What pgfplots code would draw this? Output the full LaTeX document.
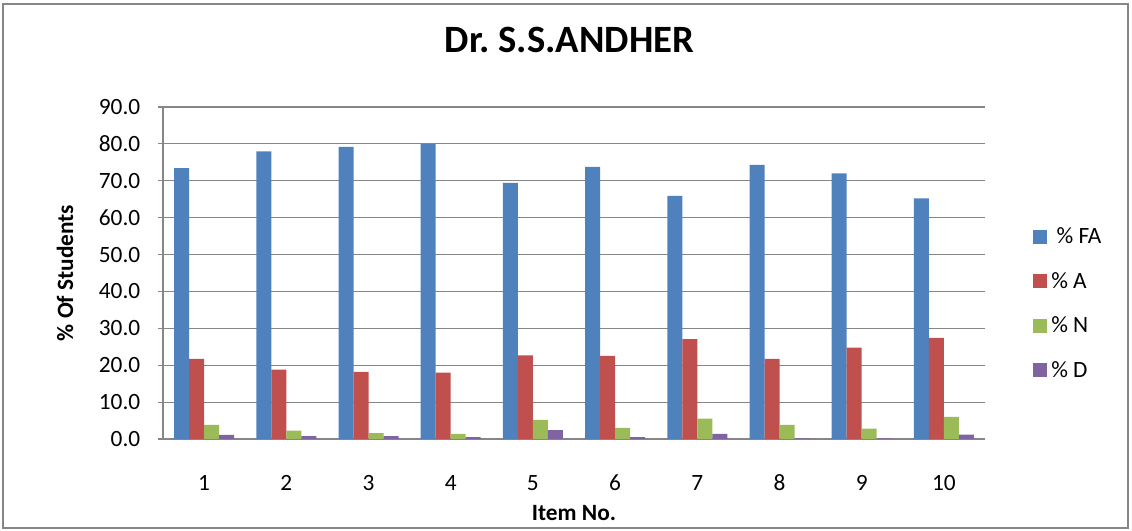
\documentclass[border=0pt]{standalone}
\usepackage{fontspec}
\setmainfont{Carlito}
\usepackage{pgfplots}
\pgfplotsset{compat=1.18}
\definecolor{cFA}{HTML}{4F81BD}
\definecolor{cA}{HTML}{C0504D}
\definecolor{cN}{HTML}{9BBB59}
\definecolor{cD}{HTML}{8064A2}
\definecolor{gridgray}{HTML}{868686}
\begin{document}
\begin{tikzpicture}
\path[use as bounding box] (0,0) rectangle (849pt,398.25pt);
\draw[gridgray, line width=0.8pt] (2.25pt,2.25pt) rectangle (846pt,395.25pt);
\begin{axis}[
  at={(122.25pt,69pt)}, anchor=south west,
  scale only axis, width=616.5pt, height=249pt,
  ybar=0pt, bar width=11.25pt,
  xmin=0.5, xmax=10.5, ymin=0, ymax=90,
  xtick={1,...,10},
  ytick={0,10,...,90},
  axis x line*=bottom, axis y line*=left,
  axis line style={gridgray, line width=0.9pt},
  ymajorgrids, grid style={gridgray, line width=0.9pt},
  xtick style={draw=none},
  ytick style={gridgray, line width=0.9pt},
  tick align=outside, major tick length=3.75pt,
  yticklabel style={/pgf/number format/fixed, /pgf/number format/precision=1, /pgf/number format/fixed zerofill, font=\fontsize{17.5}{20}\selectfont, xshift=-9.75pt},
  /pgf/number format/assume math mode=true,
  xticklabel style={font=\fontsize{17.5}{20}\selectfont, anchor=center, yshift=-29pt},
  title={Dr.\ S.S.ANDHER},
  title style={at={(axis description cs:0.4945,1.178)}, anchor=center, font=\fontsize{29}{34}\selectfont\bfseries},
  xlabel={Item No.},
  xlabel style={at={(axis description cs:0.5,-0.2229)}, anchor=center, font=\fontsize{17.5}{20}\selectfont\bfseries},
  ylabel={\% Of Students},
  ylabel style={at={(axis description cs:-0.1192,0.5)}, anchor=center, font=\fontsize{17.5}{20}\selectfont\bfseries},
  legend image code/.code={\fill[#1] (0pt,-5.25pt) rectangle (10.5pt,5.25pt);},
  legend style={at={(axis description cs:1.0584,0.408)}, anchor=west, draw=none, fill=none, inner sep=0pt,
    font=\fontsize{17.5}{20}\selectfont, row sep=14pt, column sep=0pt,
    nodes={inner sep=3pt}},
  legend cell align=left,
]
\addplot[fill=cFA, draw=none] coordinates {(1,73.4) (2,78.0) (3,79.2) (4,80.0) (5,69.4) (6,73.8) (7,65.9) (8,74.3) (9,72.0) (10,65.2)};
\addplot[fill=cA, draw=none] coordinates {(1,21.7) (2,18.8) (3,18.2) (4,18.0) (5,22.7) (6,22.5) (7,27.1) (8,21.7) (9,24.8) (10,27.4)};
\addplot[fill=cN, draw=none] coordinates {(1,3.8) (2,2.3) (3,1.6) (4,1.4) (5,5.2) (6,3.0) (7,5.5) (8,3.8) (9,2.8) (10,6.0)};
\addplot[fill=cD, draw=none] coordinates {(1,1.1) (2,0.8) (3,0.8) (4,0.5) (5,2.4) (6,0.5) (7,1.4) (8,0.2) (9,0.2) (10,1.2)};
\legend{\ \% FA, \% A, \% N, \% D}
\end{axis}
\end{tikzpicture}
\end{document}
